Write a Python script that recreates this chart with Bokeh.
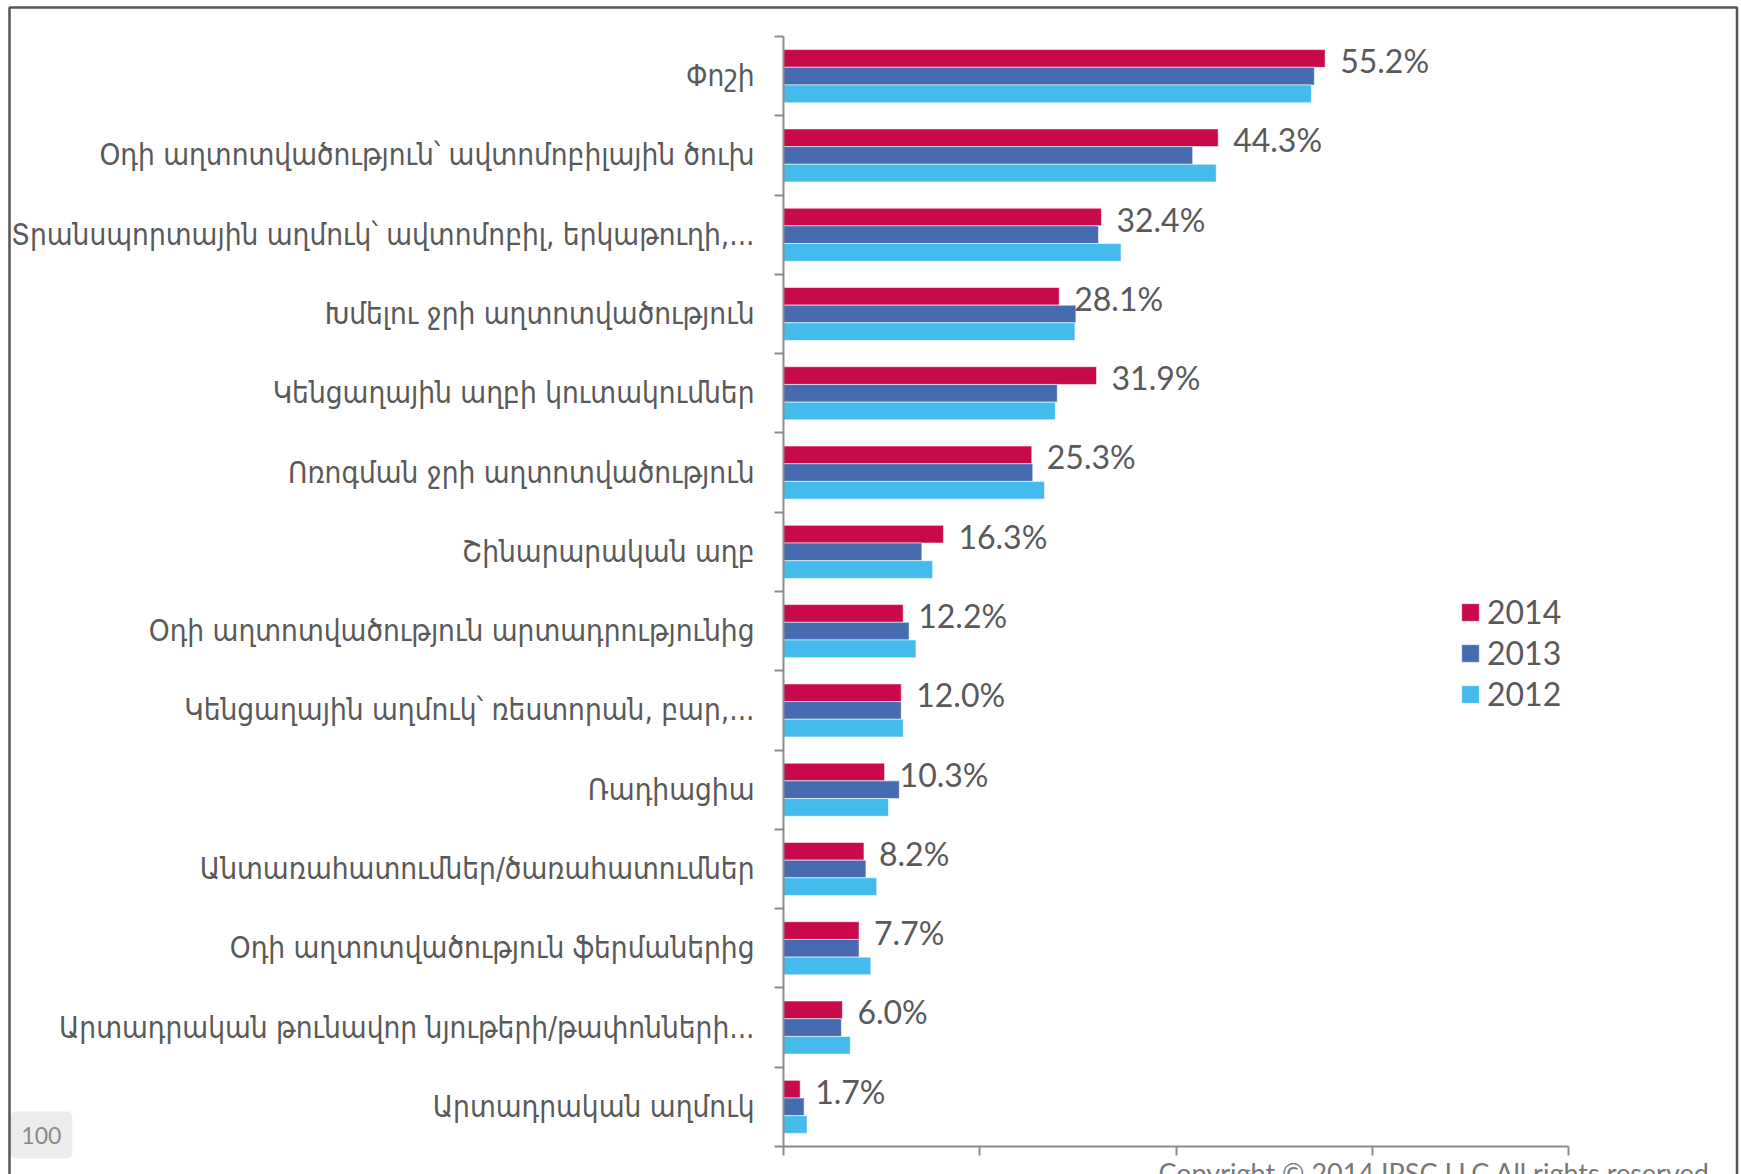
from bokeh.plotting import figure
from bokeh.models import (FixedTicker, Legend, LegendItem, Label, BoxAnnotation,
                          ColumnDataSource, Range1d)
from bokeh.embed import file_html
from bokeh.resources import INLINE
from bokeh.core.properties import value

# ---------------- data ----------------
categories = [
    "Փոշի",
    "Օդի աղտոտվածություն՝ ավտոմոբիլային ծուխ",
    "Տրանսպորտային աղմուկ՝ ավտոմոբիլ, երկաթուղի,...",
    "Խմելու ջրի աղտոտվածություն",
    "Կենցաղային աղբի կուտակումներ",
    "Ոռոգման ջրի աղտոտվածություն",
    "Շինարարական աղբ",
    "Օդի աղտոտվածություն արտադրությունից",
    "Կենցաղային աղմուկ՝ ռեստորան, բար,...",
    "Ռադիացիա",
    "Անտառահատումներ/ծառահատումներ",
    "Օդի աղտոտվածություն ֆերմաներից",
    "Արտադրական թունավոր նյութերի/թափոնների...",
    "Արտադրական աղմուկ",
]
v2014 = [55.2, 44.3, 32.4, 28.1, 31.9, 25.3, 16.3, 12.2, 12.0, 10.3, 8.2, 7.7, 6.0, 1.7]
v2013 = [54.1, 41.7, 32.1, 29.8, 27.9, 25.4, 14.1, 12.8, 12.0, 11.8, 8.4, 7.7, 5.9, 2.1]
v2012 = [53.8, 44.1, 34.4, 29.7, 27.7, 26.6, 15.2, 13.5, 12.2, 10.7, 9.5, 8.9, 6.8, 2.4]
series_names = ["2014", "2013", "2012"]
x_ticks = [0, 20, 40, 60, 80]
copyright_text = "Copyright © 2014 IPSC LLC All rights reserved"
page_number = "100"

# ---------------- style / layout ----------------
colors = ["#C8094C", "#476BB0", "#43BBEC"]
text_color = "#595959"
axis_color = "#8C8C8C"
bar_h = 0.223
offsets = [bar_h, 0.0, -bar_h]

W, H = 1741, 1174
X_LO, X_HI = 0, 80
PX_LO, PX_HI = 783, 1568          # pixel positions of the value axis ends
n = len(categories)
Y_LO, Y_HI = -0.5, n - 0.5
PY_HI, PY_LO = 36, 1146           # pixel positions of the category axis ends

sx = (X_HI - X_LO) / (PX_HI - PX_LO)
sy = (Y_HI - Y_LO) / (PY_LO - PY_HI)
x_start = X_LO - PX_LO * sx
x_end = X_HI + (W - PX_HI) * sx
y_end = Y_HI + PY_HI * sy
y_start = Y_LO - (H - PY_LO) * sy


def dx(px):
    return x_start + px * sx


def dy(py):
    return y_end - py * sy


centers = [n - 1 - i for i in range(n)]
boundaries = [c + 0.5 for c in range(-1, n)]

p = figure(width=W, height=H, output_backend="svg", toolbar_location=None,
           x_range=Range1d(x_start, x_end), y_range=Range1d(y_start, y_end),
           min_border_left=0, min_border_right=0, min_border_top=0,
           min_border_bottom=0)
p.outline_line_color = None
p.grid.visible = False
p.background_fill_color = "white"
p.border_fill_color = "white"

renderers = []
for vals, off, col in zip([v2014, v2013, v2012], offsets, colors):
    src = ColumnDataSource(dict(y=[c + off for c in centers], right=vals))
    r = p.hbar(y="y", left=0, right="right", height=bar_h, source=src,
               fill_color=col, line_color="white", line_alpha=0.55, line_width=1)
    renderers.append(r)

# value labels (2014)
lab_src = ColumnDataSource(dict(x=v2014, y=[c + offsets[0] for c in centers],
                                t=[f"{v:.1f}%" for v in v2014]))
p.text(x="x", y="y", text="t", source=lab_src, x_offset=15, y_offset=2,
       text_font=value("Lato"), text_font_size="32px", text_color=text_color,
       text_baseline="middle", text_align="left")

# x axis (drawn at the bottom of the category range)
xa = p.xaxis[0]
xa.fixed_location = Y_LO
xa.bounds = (X_LO, X_HI)
xa.ticker = FixedTicker(ticks=x_ticks, minor_ticks=[])
xa.axis_line_color = axis_color
xa.axis_line_width = 2
xa.major_tick_line_color = axis_color
xa.major_tick_line_width = 2
xa.major_tick_out = 9
xa.major_tick_in = 0
xa.minor_tick_line_color = None
xa.major_label_text_font_size = "1px"
xa.major_label_text_color = None
xa.major_label_standoff = 0

# y axis (drawn at value 0)
ya = p.yaxis[0]
ya.fixed_location = X_LO
ya.bounds = (Y_LO, Y_HI)
ya.ticker = FixedTicker(ticks=centers, minor_ticks=boundaries)
ya.major_label_overrides = {c: categories[i] for i, c in enumerate(centers)}
ya.axis_line_color = axis_color
ya.axis_line_width = 2
ya.major_tick_line_color = None
ya.major_tick_out = 0
ya.major_tick_in = 0
ya.minor_tick_line_color = axis_color
ya.minor_tick_line_width = 2
ya.minor_tick_out = 9
ya.minor_tick_in = 0
ya.major_label_standoff = 20
ya.major_label_text_font = "DejaVu Sans Condensed, DejaVu Sans"
ya.major_label_text_font_size = "29.5px"
ya.major_label_text_color = text_color

# legend
legend = Legend(items=[LegendItem(label=nm, renderers=[r]) for nm, r in zip(series_names, renderers)],
                location=(1459, 461), orientation="vertical",
                glyph_width=22, glyph_height=22, label_standoff=6, spacing=2,
                padding=0, margin=0, border_line_color=None, background_fill_alpha=0,
                label_text_font="Lato", label_text_font_size="32px",
                label_text_color=text_color)
p.add_layout(legend)

# page number box
p.add_layout(BoxAnnotation(left=dx(10), right=dx(71.7), top=dy(1111), bottom=dy(1158),
                           fill_color="#ECECEC", fill_alpha=1, line_color=None,
                           border_radius=5))
p.add_layout(Label(x=dx(40.8), y=dy(1134.5), text=page_number,
                   text_align="center", text_baseline="middle", text_font="Lato",
                   text_font_size="23px", text_color="#8A8A8A"))

# copyright (partly cut at the bottom, as in the original)
p.add_layout(Label(x=dx(1158), y=dy(1155), text=copyright_text,
                   text_align="left", text_baseline="top", text_font="Lato",
                   text_font_size="27px", text_color="#777777"))

# outer border
p.add_layout(BoxAnnotation(left=dx(9), right=dx(1736.5), top=dy(7), bottom=dy(1210),
                           fill_alpha=0, line_color="#555555", line_alpha=1,
                           line_width=2.5))

open("out.html", "w").write(file_html(p, INLINE))
